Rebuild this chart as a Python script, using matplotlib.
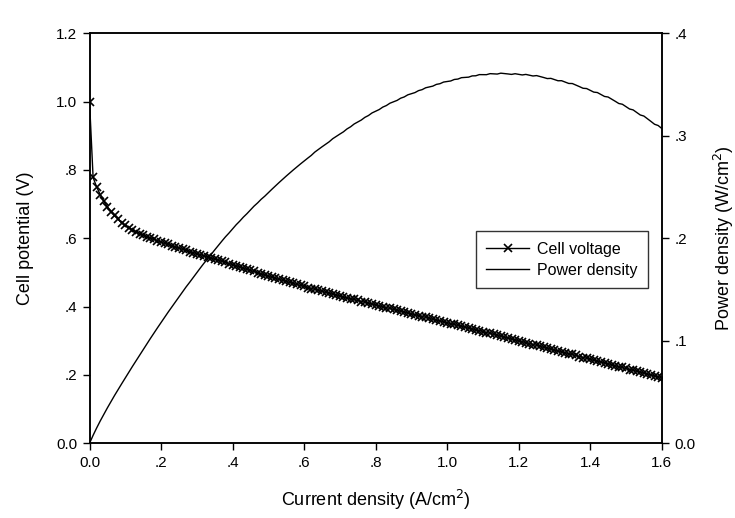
import matplotlib
matplotlib.use("Agg")
import matplotlib.pyplot as plt
from matplotlib.ticker import FuncFormatter, MultipleLocator

plt.rcParams["font.family"] = ["Liberation Sans", "DejaVu Sans"]

# densidade de corrente (A/cm2), passo de 0.01
corrente = [round(0.01 * k, 2) for k in range(161)]

tensao = [
    1.000, 0.778, 0.750, 0.728, 0.708, 0.692, 0.678, 0.667, 0.656, 0.646,
    0.638, 0.631, 0.625, 0.619, 0.614, 0.609, 0.605, 0.601, 0.597, 0.593,
    0.589, 0.585, 0.582, 0.578, 0.575, 0.571, 0.568, 0.565, 0.561, 0.558,
    0.555, 0.552, 0.549, 0.545, 0.542, 0.539, 0.536, 0.533, 0.530, 0.526,
    0.523, 0.520, 0.516, 0.513, 0.509, 0.506, 0.503, 0.499, 0.496, 0.492,
    0.489, 0.486, 0.483, 0.480, 0.477, 0.474, 0.471, 0.468, 0.465, 0.462,
    0.459, 0.456, 0.453, 0.451, 0.448, 0.445, 0.442, 0.439, 0.437, 0.434,
    0.431, 0.428, 0.426, 0.423, 0.421, 0.418, 0.415, 0.413, 0.410, 0.408,
    0.405, 0.402, 0.400, 0.397, 0.395, 0.392, 0.389, 0.387, 0.384, 0.382,
    0.379, 0.376, 0.374, 0.371, 0.369, 0.366, 0.363, 0.361, 0.358, 0.356,
    0.353, 0.350, 0.348, 0.345, 0.343, 0.340, 0.337, 0.335, 0.332, 0.330,
    0.327, 0.324, 0.322, 0.319, 0.316, 0.314, 0.311, 0.308, 0.305, 0.303,
    0.300, 0.297, 0.295, 0.292, 0.289, 0.287, 0.284, 0.281, 0.278, 0.276,
    0.273, 0.270, 0.268, 0.265, 0.262, 0.260, 0.257, 0.254, 0.251, 0.249,
    0.246, 0.243, 0.241, 0.238, 0.235, 0.233, 0.230, 0.227, 0.224, 0.222,
    0.219, 0.216, 0.214, 0.211, 0.208, 0.206, 0.203, 0.200, 0.197, 0.195,
    0.192,
]

# densidade de potência = corrente x tensão (W/cm2)
potencia = [i * v for i, v in zip(corrente, tensao)]


def rotulo(valor, _pos):
    if abs(valor) < 1e-9:
        return "0.0"
    texto = "%.1f" % valor
    return texto[1:] if texto.startswith("0") else texto


fig = plt.figure(figsize=(7.35, 5.18), dpi=100)
ax = fig.add_axes([0.1218, 0.1442, 0.7785, 0.7915])
ax2 = ax.twinx()

linha_v, = ax.plot(corrente, tensao, color="black", linewidth=1.0,
                   marker="x", markersize=6, markeredgewidth=1.2,
                   label="Cell voltage")
linha_p, = ax2.plot(corrente, potencia, color="black", linewidth=1.0,
                    label="Power density")

ax.set_xlim(0, 1.6)
ax.set_ylim(0, 1.2)
ax2.set_ylim(0, 0.4)

ax.xaxis.set_major_locator(MultipleLocator(0.2))
ax.yaxis.set_major_locator(MultipleLocator(0.2))
ax2.yaxis.set_major_locator(MultipleLocator(0.1))
for eixo in (ax.xaxis, ax.yaxis, ax2.yaxis):
    eixo.set_major_formatter(FuncFormatter(rotulo))

for a in (ax, ax2):
    a.tick_params(direction="out", length=5, width=1, labelsize=11,
                  colors="black", pad=4)
    for spine in a.spines.values():
        spine.set_linewidth(1.1)

ax.set_xlabel("Current density (A/cm$^2$)", fontsize=13, labelpad=13)
ax.set_ylabel("Cell potential (V)", fontsize=13, labelpad=16)
ax2.set_ylabel("Power density (W/cm$^2$)", fontsize=13, labelpad=12)

leg = ax.legend([linha_v, linha_p], ["Cell voltage", "Power density"],
                loc="upper right", bbox_to_anchor=(0.99, 0.537),
                fontsize=11.5, handlelength=2.7, frameon=True, fancybox=False,
                borderpad=0.65, labelspacing=0.4, handletextpad=0.5)
leg.get_frame().set_edgecolor("black")
leg.get_frame().set_linewidth(1.0)

fig.savefig("out.png", dpi=100)
